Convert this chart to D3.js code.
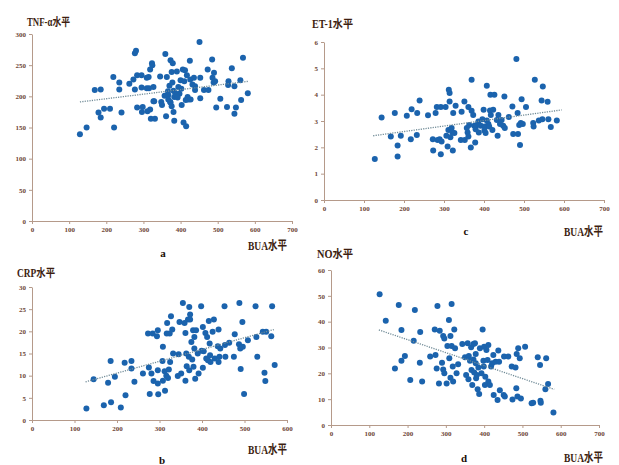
<!DOCTYPE html>
<html>
<head>
<meta charset="utf-8">
<script src="https://cdn.jsdelivr.net/npm/d3@7"></script>
<style>
  body { margin: 0; background: #fff; }
  svg text { font-family: "Liberation Serif", "Noto Sans CJK SC", serif; font-weight: bold; }
</style>
</head>
<body>
<div id="chart"></div>
<script>
// BUA vs TNF-α (panel a)
const tnfData = [
  [129,139],[147,150],[169,210],[185,211],[179,174],[185,166],[194,180],[210,180],[219,231],[221,150],
  [235,222],[235,211],[241,174],[262,220],[273,227],[277,269],[280,273],[277,211],[283,234],[283,182],
  [295,234],[295,214],[296,175],[298,183],[309,230],[314,231],[309,213],[315,213],[318,179],[311,176],
  [318,243],[323,253],[324,250],[327,215],[320,164],[327,192],[331,164],[329,192],[345,232],[348,191],
  [350,186],[357,201],[359,268],[363,231],[361,168],[367,202],[370,217],[373,258],[376,239],[378,222],
  [379,253],[381,209],[383,199],[373,190],[376,184],[381,175],[383,161],[372,191],[367,195],[390,240],
  [394,215],[397,204],[400,226],[403,186],[406,243],[408,158],[410,224],[412,242],[414,194],[415,152],
  [417,234],[419,199],[421,195],[425,257],[426,227],[427,195],[436,230],[439,216],[439,210],[451,287],
  [453,230],[453,197],[463,210],[473,243],[475,210],[485,259],[486,230],[489,222],[490,238],[493,224],
  [496,182],[507,196],[525,183],[528,218],[529,224],[538,245],[545,216],[545,172],[549,182],[561,226],
  [563,194],[568,262],[581,205],[386,205],[392,198],[402,212],[432,219],[366,208]
];
const tnfTrend = [[129,191],[581,224]];

// BUA vs ET-1 (panel c)
const et1Data = [
  [127,1.56],[144,3.13],[167,2.41],[177,3.30],[184,2.07],[184,1.65],[192,2.44],[207,3.20],[217,2.31],[219,3.45],
  [232,2.47],[233,3.30],[239,3.78],[260,3.22],[272,2.31],[273,1.88],[279,3.30],[282,3.53],[284,2.28],[289,2.31],
  [292,3.53],[292,1.74],[294,2.22],[304,3.53],[306,2.44],[309,2.03],[312,4.19],[314,4.06],[314,3.74],[311,2.66],
  [316,2.38],[319,2.73],[321,2.56],[322,1.88],[323,3.30],[326,2.54],[329,3.58],[342,2.28],[344,3.35],[351,3.74],
  [352,2.28],[357,2.73],[359,2.56],[361,3.53],[361,2.41],[363,2.85],[367,1.99],[369,3.39],[369,4.57],[373,3.23],
  [376,2.82],[378,2.18],[379,2.69],[382,2.85],[386,2.98],[387,2.56],[392,2.82],[396,3.07],[399,3.43],[401,2.64],
  [402,2.79],[404,2.54],[407,3.02],[407,4.34],[411,2.89],[413,2.79],[415,3.40],[416,4.00],[417,3.23],[421,2.66],
  [423,3.43],[426,4.00],[432,3.04],[434,2.44],[436,3.23],[440,2.89],[444,3.04],[448,2.82],[451,3.93],[452,2.73],
  [462,3.15],[471,3.55],[473,2.51],[481,5.35],[484,3.30],[485,2.51],[488,2.85],[490,2.09],[492,2.92],[494,3.83],
  [497,2.89],[505,3.53],[523,2.92],[524,2.79],[527,4.57],[537,3.02],[544,3.78],[547,4.31],[546,3.07],[559,3.73],
  [561,3.07],[567,2.77],[582,3.02]
];
const et1Trend = [[123,2.44],[594,3.42]];

// BUA vs CRP (panel b)
const crpData = [
  [128,2.6],[145,9.2],[169,3.3],[179,8.4],[185,13.3],[186,4.0],[195,9.75],[218,12.9],[220,5.6],[209,2.8],
  [234,13.3],[234,11.6],[241,8.6],[261,10.5],[273,19.5],[275,11.85],[277,5.85],[281,10.5],[284,19.5],[286,8.8],
  [294,18.9],[296,20.25],[296,8.25],[297,5.8],[296,11.25],[307,13.3],[308,16.5],[308,8.85],[312,11.0],[313,6.6],
  [316,10.0],[317,19.5],[318,21.9],[320,9.5],[322,11.4],[324,19.5],[325,13.1],[327,23.4],[330,20.4],[332,15.0],
  [343,9.9],[345,14.85],[347,22.1],[351,10.5],[355,26.4],[359,21.9],[361,8.85],[361,19.65],[363,15.0],[364,12.15],
  [367,22.65],[369,14.25],[370,25.5],[370,11.25],[372,23.8],[372,22.65],[375,17.6],[377,13.65],[379,20.25],[380,12.0],
  [382,18.75],[382,16.1],[384,9.3],[386,20.25],[390,15.0],[392,10.5],[398,25.65],[399,15.6],[402,21.0],[402,11.8],
  [404,15.5],[408,19.65],[410,13.9],[412,18.75],[414,13.5],[416,22.35],[418,17.25],[419,14.6],[420,13.1],[425,19.9],
  [428,22.65],[430,13.9],[437,16.65],[439,20.4],[439,13.1],[441,14.25],[443,16.1],[453,25.65],[454,16.9],[455,14.25],
  [464,17.4],[475,14.25],[477,19.35],[487,17.1],[488,26.4],[490,16.1],[491,11.5],[495,22.1],[496,16.5],[499,5.85],
  [508,18.0],[526,25.65],[528,18.75],[530,14.25],[543,19.9],[547,10.65],[549,8.8],[551,19.9],[563,18.9],[565,25.65],
  [571,12.4]
];
const crpTrend = [[126,8.6],[569,20.4]];

// BUA vs NO (panel d)
const noData = [
  [127,50.6],[143,40.4],[167,21.9],[177,46.5],[184,36.8],[184,24.9],[193,26.7],[207,17.4],[216,32.6],[219,44.5],
  [232,24.1],[233,36.0],[238,16.8],[259,26.5],[271,37.0],[273,27.1],[276,21.9],[278,46.1],[282,16.1],[284,36.5],
  [290,24.1],[293,34.5],[293,21.5],[296,33.5],[296,20.0],[302,16.1],[304,30.6],[308,40.6],[309,25.8],[312,34.5],
  [312,18.3],[315,46.8],[315,30.6],[318,22.6],[319,16.8],[322,37.0],[324,29.7],[328,20.0],[332,23.5],[343,31.4],
  [350,26.2],[353,19.4],[357,31.6],[359,17.7],[360,26.7],[363,24.9],[366,30.1],[367,21.3],[369,15.5],[372,25.4],
  [372,31.4],[374,20.3],[376,31.6],[378,23.9],[378,27.5],[379,18.1],[381,19.4],[383,13.8],[385,22.3],[387,12.0],
  [389,29.7],[393,20.0],[396,37.0],[398,24.9],[399,22.6],[400,30.3],[402,15.5],[403,18.7],[406,29.0],[409,25.2],
  [411,31.0],[411,16.8],[415,15.5],[418,22.6],[421,23.9],[424,27.1],[425,11.6],[430,24.5],[435,9.7],[437,28.8],
  [439,24.5],[441,13.5],[451,11.6],[452,26.5],[454,11.0],[463,26.5],[472,22.6],[474,9.9],[482,22.3],[484,14.2],
  [485,27.5],[487,11.0],[489,29.7],[493,25.8],[496,10.3],[507,30.3],[524,8.4],[528,8.6],[540,26.2],[546,23.2],
  [547,9.4],[548,8.6],[560,13.8],[562,25.8],[567,15.9],[581,4.8]
];
const noTrend = [[125,36.8],[583,13.8]];

const xTicks700 = [0,100,200,300,400,500,600,700];
const xTicks600 = [0,100,200,300,400,500,600];
const titles = ['TNF-α水平','ET-1水平','CRP水平','NO水平'];
const letters = ['a','c','b','d'];
const xTitle = 'BUA水平';

const width = 619, height = 465;

const panels = [
  { data: tnfData, trend: tnfTrend, title: titles[0], letter: letters[0],
    xDomain: [0,700], xTicks: xTicks700, yDomain: [0,300], yTicks: [0,50,100,150,200,250,300],
    x0: 32, x1: 292, y0: 221, y1: 34, titleX: 27, titleY: 26, titleW: 43,
    letterX: 163, letterY: 257, buaX: 287, buaY: 250 },
  { data: et1Data, trend: et1Trend, title: titles[1], letter: letters[1],
    xDomain: [0,700], xTicks: xTicks700, yDomain: [0,6], yTicks: [0,1,2,3,4,5,6],
    x0: 324, x1: 604, y0: 200, y1: 42, titleX: 312, titleY: 28, titleW: 41,
    letterX: 466, letterY: 235, buaX: 603, buaY: 236 },
  { data: crpData, trend: crpTrend, title: titles[2], letter: letters[2],
    xDomain: [0,600], xTicks: xTicks600, yDomain: [0,30], yTicks: [0,5,10,15,20,25,30],
    x0: 32, x1: 287, y0: 420, y1: 287, titleX: 17, titleY: 277, titleW: 38,
    letterX: 162, letterY: 464, buaX: 287, buaY: 454 },
  { data: noData, trend: noTrend, title: titles[3], letter: letters[3],
    xDomain: [0,700], xTicks: xTicks700, yDomain: [0,60], yTicks: [0,10,20,30,40,50,60],
    x0: 331, x1: 599, y0: 425, y1: 270, titleX: 317, titleY: 258, titleW: 36,
    letterX: 464, letterY: 462, buaX: 603, buaY: 462 }
];

const svg = d3.select('#chart')
  .append('svg')
  .attr('width', width)
  .attr('height', height);

svg.append('rect').attr('width', width).attr('height', height).attr('fill', '#fff');

const axisColor = '#b59a8a';
const tickTextColor = '#6e4535';
const titleColor = '#3d1e10';
const buaWidth = 39;

panels.forEach(p => {
  const x = d3.scaleLinear().domain(p.xDomain).range([p.x0, p.x1]);
  const y = d3.scaleLinear().domain(p.yDomain).range([p.y0, p.y1]);
  const g = svg.append('g');

  // axes
  const xAxis = g.append('g')
    .attr('transform', `translate(0,${p.y0})`)
    .call(d3.axisBottom(x).tickValues(p.xTicks).tickFormat(d3.format('d'))
      .tickSize(3).tickSizeOuter(0).tickPadding(3));
  const yAxis = g.append('g')
    .attr('transform', `translate(${p.x0},0)`)
    .call(d3.axisLeft(y).tickValues(p.yTicks).tickFormat(d3.format('d'))
      .tickSize(3).tickSizeOuter(0).tickPadding(3));

  [xAxis, yAxis].forEach(a => {
    a.select('.domain').attr('stroke', axisColor).attr('stroke-width', 1);
    a.selectAll('.tick line').attr('stroke', axisColor);
    a.selectAll('.tick text')
      .attr('fill', tickTextColor)
      .style('font-size', '7px')
      .style('font-family', '"Liberation Serif", serif')
      .style('font-weight', 'bold');
  });

  // points
  g.append('g')
    .selectAll('circle')
    .data(p.data)
    .enter().append('circle')
    .attr('cx', d => x(d[0]))
    .attr('cy', d => y(d[1]))
    .attr('r', 3)
    .attr('fill', '#1b63ad');

  // linear trend, dotted
  g.append('line')
    .attr('x1', x(p.trend[0][0])).attr('y1', y(p.trend[0][1]))
    .attr('x2', x(p.trend[1][0])).attr('y2', y(p.trend[1][1]))
    .attr('stroke', '#6f8a96')
    .attr('stroke-width', 1.3)
    .attr('stroke-dasharray', '1.2,1.2');

  // texts (source glyphs are narrow, so squeeze to the measured width)
  g.append('text')
    .attr('x', p.titleX).attr('y', p.titleY)
    .attr('fill', titleColor)
    .attr('textLength', p.titleW)
    .attr('lengthAdjust', 'spacingAndGlyphs')
    .style('font-size', '11.5px')
    .text(p.title);

  g.append('text')
    .attr('x', p.buaX - buaWidth).attr('y', p.buaY)
    .attr('fill', titleColor)
    .attr('textLength', buaWidth)
    .attr('lengthAdjust', 'spacingAndGlyphs')
    .style('font-size', '12.5px')
    .text(xTitle);

  g.append('text')
    .attr('x', p.letterX).attr('y', p.letterY)
    .attr('text-anchor', 'middle')
    .attr('fill', '#1a0d05')
    .style('font-size', '11px')
    .text(p.letter);
});
</script>
</body>
</html>
